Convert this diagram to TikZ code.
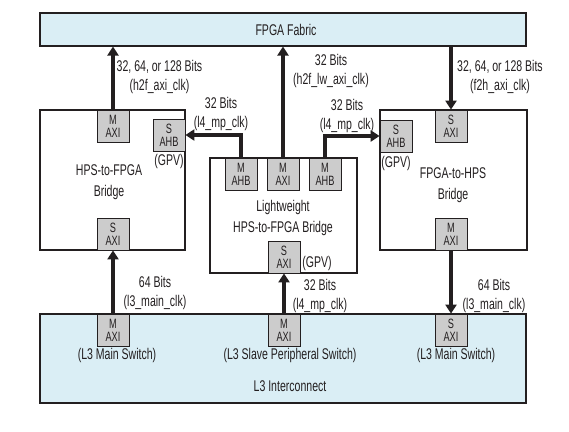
\documentclass[tikz,border=0pt]{standalone}
\usepackage{fontspec}
\setmainfont{Liberation Sans}[FakeStretch=0.68]
\usetikzlibrary{arrows.meta}
\definecolor{lblue}{RGB}{218,238,245}
\definecolor{pgray}{RGB}{204,204,204}
\definecolor{ink}{RGB}{35,31,32}
\tikzset{
  x=1pt,y=-1pt,
  every node/.style={font=\fontsize{15.5}{16}\selectfont, text=ink},
  bigbox/.style={draw=ink, line width=1.1pt, inner sep=0pt, anchor=center},
  port/.style={draw=ink, line width=0.8pt, fill=pgray, minimum width=32pt, minimum height=32pt, inner sep=0pt, align=center, font=\fontsize{13.5}{13}\selectfont},
  lab/.style={align=center, inner sep=0pt, font=\fontsize{15.5}{19}\selectfont},
  btext/.style={align=center, inner sep=0pt, font=\fontsize{15.5}{21}\selectfont},
  arr/.style={draw=ink, line width=3.5pt, -{Triangle[length=9pt,width=11pt]}},
}
\begin{document}
\begin{tikzpicture}
\useasboundingbox (0,0) rectangle (569,431);
% big boxes
\node[bigbox, fill=lblue, minimum width=486pt, minimum height=33pt] (fabric) at (283,29.5) {};
\node[inner sep=0pt] (fabt) at (286,29.5) {FPGA Fabric};
\node[bigbox, fill=lblue, minimum width=486pt, minimum height=89pt] (l3) at (283,358.5) {};
\node[bigbox, fill=white, minimum width=145pt, minimum height=140pt] (h2f) at (112.5,180) {};
\node[bigbox, fill=white, minimum width=147pt, minimum height=140pt] (f2h) at (453.5,180) {};
\node[bigbox, fill=white, minimum width=147pt, minimum height=115pt] (lw) at (283.5,215.5) {};
% bridge texts
\node[btext] (h2ft) at (109,182.5) {HPS-to-FPGA\\Bridge};
\node[btext] (f2ht) at (453,185) {FPGA-to-HPS\\Bridge};
\node[btext] (lwt) at (283,218) {Lightweight\\HPS-to-FPGA Bridge};
\node[inner sep=0pt] (l3t) at (290,386) {L3 Interconnect};
% ports
\node[port] (h2fM) at (113,126) {M\\AXI};
\node[port] (h2fS) at (113,234) {S\\AXI};
\node[port] (h2fG) at (169,135) {S\\AHB};
\node[inner sep=0pt] (h2fGl) at (169,161) {(GPV)};
\node[port] (lwA1) at (241,174) {M\\AHB};
\node[port] (lwX) at (283,174) {M\\AXI};
\node[port] (lwA2) at (325,174) {M\\AHB};
\node[port] (lwS) at (284,257) {S\\AXI};
\node[inner sep=0pt] (lwSl) at (317,263) {(GPV)};
\node[port] (f2hS) at (451,126) {S\\AXI};
\node[port] (f2hG) at (396,136) {S\\AHB};
\node[inner sep=0pt] (f2hGl) at (396,163) {(GPV)};
\node[port] (f2hM) at (451,234) {M\\AXI};
\node[port] (l3M1) at (113,330) {M\\AXI};
\node[port] (l3M2) at (284,330) {M\\AXI};
\node[port] (l3S) at (451,330) {S\\AXI};
\node[inner sep=0pt] (l3l1) at (117,355) {(L3 Main Switch)};
\node[inner sep=0pt] (l3l2) at (290,355) {(L3 Slave Peripheral Switch)};
\node[inner sep=0pt] (l3l3) at (456,355) {(L3 Main Switch)};
% connectors
\draw[arr] (h2fM.north) -- (h2fM.north |- fabric.south);
\draw[arr] (lwX.north) -- (lwX.north |- fabric.south);
\draw[arr] (fabric.south -| f2hS.north) -- (f2hS.north);
\draw[arr] (lwA1.north) |- (h2fG.east);
\draw[arr] (lwA2.north) |- (f2hG.west);
\draw[arr] (l3M1.north) -- (h2fS.south);
\draw[arr] (l3M2.north) -- (lwS.south);
\draw[arr] (f2hM.south) -- (l3S.north);
% labels
\node[lab] (lab1) at (159.5,76.5) {32, 64, or 128 Bits\\(h2f\_axi\_clk)};
\node[lab] (lab2) at (331,70.5) {32 Bits\\(h2f\_lw\_axi\_clk)};
\node[lab] (lab3) at (500,76.5) {32, 64, or 128 Bits\\(f2h\_axi\_clk)};
\node[lab] (lab4) at (221,113.5) {32 Bits\\(l4\_mp\_clk)};
\node[lab] (lab5) at (347,115.5) {32 Bits\\(l4\_mp\_clk)};
\node[lab] (lab6) at (155,292.5) {64 Bits\\(l3\_main\_clk)};
\node[lab] (lab7) at (320,296) {32 Bits\\(l4\_mp\_clk)};
\node[lab] (lab8) at (494,296) {64 Bits\\(l3\_main\_clk)};
\end{tikzpicture}
\end{document}
